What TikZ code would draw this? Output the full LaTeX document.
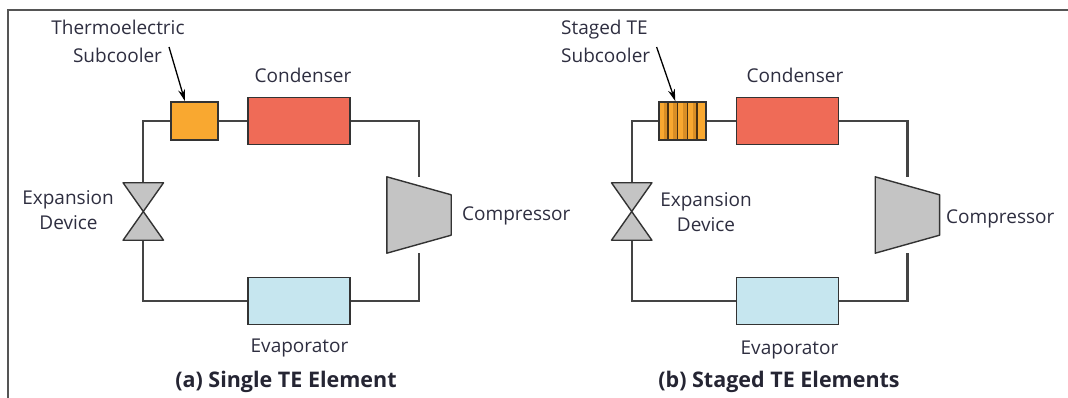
\documentclass[tikz,border=0pt]{standalone}
\usepackage{fontspec}
\setmainfont{Open Sans}
\usetikzlibrary{arrows.meta,calc}
\definecolor{txt}{HTML}{2E2E40}
\definecolor{pipe}{HTML}{444444}
\definecolor{outl}{HTML}{333333}
\definecolor{tefill}{HTML}{F9A830}
\definecolor{condfill}{HTML}{EF6B57}
\definecolor{evapfill}{HTML}{C6E6EF}
\definecolor{grayfill}{HTML}{C4C4C4}
\definecolor{framec}{HTML}{555555}
\definecolor{stripec}{HTML}{4A3010}
\definecolor{bandc}{HTML}{D98E25}
\begin{document}
\begin{tikzpicture}[x=1pt,y=-1pt,
  pipeline/.style={draw=pipe,line width=2.2pt},
  hx/.style={draw=outl,line width=1.6pt,inner sep=0pt,minimum width=102pt,minimum height=47pt},
  tebox/.style={draw=outl,fill=tefill,line width=1.6pt,inner sep=0pt,minimum width=47pt,minimum height=38pt},
  valvearea/.style={inner sep=0pt,minimum width=40pt,minimum height=57pt},
  comparea/.style={inner sep=0pt,minimum width=64pt,minimum height=76pt},
  grayshape/.style={draw=outl,fill=grayfill,line width=1.4pt,line join=round},
  lbl/.style={text=txt,inner sep=0pt,yshift=-3.5pt,text height=0.72em,text depth=0pt,font=\fontsize{19}{22}\selectfont},
  captionlbl/.style={text=txt!80!black,inner sep=0pt,yshift=-3.5pt,text height=0.72em,text depth=0pt,font=\fontsize{21.5}{24}\selectfont\bfseries},
  pointer/.style={draw=black,line width=1.3pt,-{Stealth[length=12pt,width=7pt]}}]
\useasboundingbox (0,0) rectangle (1068,398);
\draw[framec,line width=2pt] (8,420) -- (8,10) -- (1080,10);

% ---------- (a) single TE element ----------
\node[tebox] (s1) at (194.2,121) {};
\node[hx,fill=condfill] (k1) at (299.2,121) {};
\node[hx,fill=evapfill] (e1) at (299.2,301) {};
\node[valvearea] (v1) at (143.3,211.5) {};
\node[comparea] (c1) at (419,215) {};
\draw[pipeline] (s1.east) -- (k1.west);
\draw[pipeline] (k1.east) -| (c1.north);
\draw[pipeline] (c1.south) |- (e1.east);
\draw[pipeline] (e1.west) -| (v1.south);
\draw[pipeline] (v1.north) |- (s1.west);
\draw[grayshape] (v1.north west) -- (v1.north east) -- (v1.center) -- cycle;
\draw[grayshape] (v1.south west) -- (v1.south east) -- (v1.center) -- cycle;
\draw[grayshape] (c1.north west) -- ($(c1.north east)+(0,18)$) -- ($(c1.south east)+(0,-18)$) -- (c1.south west) -- cycle;
\node[lbl] (t1a) at (118,27) {Thermoelectric};
\node[lbl] (t1b) at (117.5,55) {Subcooler};
\coordinate (p1) at (169,47);
\draw[pointer] (p1) -- ($(s1.north west)!0.31!(s1.north east)$);
\node[lbl] (l1k) at (303,75) {Condenser};
\node[lbl] (l1x) at (68,197) {Expansion};
\node[lbl] (l1d) at (68.5,222) {Device};
\node[lbl,anchor=west] (l1c) at (462,213) {Compressor};
\node[lbl] (l1e) at (299.5,345) {Evaporator};
\node[captionlbl] (cap1) at (286,380) {(a) Single TE Element};

% ---------- (b) staged TE elements ----------
\node[tebox] (s2) at (682.6,121) {};
\foreach \f in {0.2,0.4,0.6,0.8}{
  \fill[bandc] ($(s2.north west)!\f!(s2.north east)+(-4.5,0)$) rectangle ($(s2.south west)!\f!(s2.south east)$);
  \draw[stripec,line width=1.5pt] ($(s2.north west)!\f!(s2.north east)$) -- ($(s2.south west)!\f!(s2.south east)$);
}
\node[tebox,fill=none] (s2b) at (682.6,121) {};
\node[hx,fill=condfill] (k2) at (787.6,121) {};
\node[hx,fill=evapfill] (e2) at (787.6,301) {};
\node[valvearea] (v2) at (631.7,211.5) {};
\node[comparea] (c2) at (907.4,215) {};
\draw[pipeline] (s2.east) -- (k2.west);
\draw[pipeline] (k2.east) -| (c2.north);
\draw[pipeline] (c2.south) |- (e2.east);
\draw[pipeline] (e2.west) -| (v2.south);
\draw[pipeline] (v2.north) |- (s2.west);
\draw[grayshape] (v2.north west) -- (v2.north east) -- (v2.center) -- cycle;
\draw[grayshape] (v2.south west) -- (v2.south east) -- (v2.center) -- cycle;
\draw[grayshape] (c2.north west) -- ($(c2.north east)+(0,18)$) -- ($(c2.south east)+(0,-18)$) -- (c2.south west) -- cycle;
\node[lbl,anchor=west] (t2a) at (561,27) {Staged TE};
\node[lbl,anchor=west] (t2b) at (561,55) {Subcooler};
\coordinate (p2) at (656.6,47);
\draw[pointer] (p2) -- ($(s2.north west)!0.35!(s2.north east)$);
\node[lbl] (l2k) at (795,75) {Condenser};
\node[lbl] (l2x) at (706,199) {Expansion};
\node[lbl] (l2d) at (706,224) {Device};
\node[lbl,anchor=west] (l2c) at (946,216) {Compressor};
\node[lbl] (l2e) at (789.5,347) {Evaporator};
\node[captionlbl] (cap2) at (779,380) {(b) Staged TE Elements};
\end{tikzpicture}
\end{document}
